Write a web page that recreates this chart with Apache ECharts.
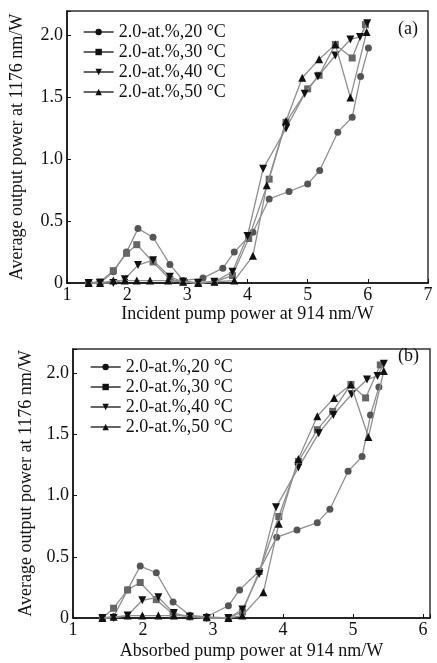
<!DOCTYPE html>
<html><head><meta charset="utf-8">
<script src="https://cdn.jsdelivr.net/npm/echarts@6/dist/echarts.min.js"></script>
<style>html,body{margin:0;padding:0;background:#fff}#c{width:437px;height:663px}</style>
</head><body><div id="c"></div>
<script>
// ---- Panel (a): incident pump power ----
const aX20 = [1.36,1.55,1.77,1.99,2.18,2.43,2.71,2.93,3.26,3.59,3.78,4.09,4.36,4.69,5.0,5.2,5.5,5.74,5.88,6.01];
const aY20 = [0,0,0.09,0.25,0.44,0.37,0.15,0.02,0.04,0.12,0.25,0.41,0.68,0.74,0.80,0.91,1.22,1.34,1.67,1.90];
const aX30 = [1.36,1.55,1.77,1.99,2.16,2.43,2.71,2.93,3.18,3.45,3.75,4.02,4.36,4.64,5.0,5.19,5.46,5.74,5.96];
const aY30 = [0,0.01,0.10,0.24,0.31,0.17,0.03,0.01,0,0.01,0.06,0.36,0.84,1.30,1.57,1.68,1.93,1.82,2.09];
const aX40 = [1.36,1.55,1.77,1.96,2.18,2.43,2.71,2.93,3.18,3.45,3.75,4.0,4.26,4.64,4.95,5.17,5.46,5.71,5.87,5.99];
const aY40 = [0,0,0,0.03,0.145,0.185,0.05,0.01,0,0.01,0.09,0.38,0.925,1.25,1.53,1.67,1.84,1.97,1.99,2.10];
const aX50 = [1.36,1.55,1.77,1.96,2.16,2.38,2.68,2.93,3.18,3.45,3.78,4.09,4.32,4.64,4.91,5.19,5.46,5.71,5.98];
const aY50 = [0,0,0.02,0.02,0.02,0.02,0.02,0.01,0,0.01,0.02,0.22,0.79,1.31,1.66,1.81,1.93,1.50,2.03];
// ---- Panel (b): absorbed pump power ----
const bX20 = [1.42,1.58,1.78,1.96,2.19,2.43,2.67,2.91,3.22,3.38,3.66,3.91,4.20,4.49,4.67,4.93,5.13,5.25,5.37];
const bY20 = [0,0.01,0.23,0.425,0.37,0.13,0.02,0.01,0.10,0.23,0.385,0.66,0.72,0.78,0.89,1.20,1.32,1.66,1.89];
const bX30 = [1.42,1.58,1.78,1.96,2.19,2.43,2.67,2.91,3.22,3.42,3.66,3.94,4.22,4.49,4.71,4.97,5.18,5.39];
const bY30 = [0,0.08,0.23,0.29,0.15,0.03,0.01,0,0,0.05,0.38,0.83,1.28,1.54,1.69,1.91,1.80,2.07];
const bX40 = [1.42,1.58,1.78,1.99,2.22,2.44,2.67,2.91,3.22,3.42,3.66,3.90,4.22,4.51,4.72,4.98,5.20,5.35,5.44];
const bY40 = [0,0,0.02,0.145,0.17,0.04,0.01,0,0,0.07,0.36,0.905,1.23,1.51,1.66,1.83,1.95,1.98,2.08];
const bX50 = [1.42,1.58,1.78,1.99,2.22,2.44,2.67,2.91,3.22,3.42,3.72,3.94,4.22,4.49,4.73,4.97,5.22,5.44];
const bY50 = [0,0.01,0.02,0.02,0.02,0.02,0.02,0.01,0,0.02,0.21,0.77,1.30,1.65,1.80,1.91,1.48,2.02];

const names = ['2.0-at.%,20 °C','2.0-at.%,30 °C','2.0-at.%,40 °C','2.0-at.%,50 °C'];
const xTitleA = 'Incident pump power at 914 nm/W';
const xTitleB = 'Absorbed pump power at 914 nm/W';
const yTitle = 'Average output power at 1176 nm/W';

const FONT = 'Liberation Serif';
const zip = (xs, ys) => xs.map((x,i)=>[x, ys[i]]);
const markers = [
  {symbol:'circle', size:7, color:'#555', rot:0},
  {symbol:'rect', size:7, color:'#666', rot:0},
  {symbol:'triangle', size:8, color:'#111', rot:180},
  {symbol:'triangle', size:8, color:'#111', rot:0}
];
function mk(idx, gi, xs, ys){
  const m = markers[idx];
  return {
    name: names[idx], type:'line', xAxisIndex:gi, yAxisIndex:gi,
    data: zip(xs, ys), symbol:m.symbol, symbolSize:m.size, symbolRotate:m.rot,
    showAllSymbol:true, clip:false,
    itemStyle:{color:m.color}, lineStyle:{color:'#8f8f8f', width:1.3},
    z: 2+idx
  };
}
function xAxis(gi, max, title, gap){
  return {type:'value', gridIndex:gi, min:1, max:max, interval:1,
    name:title, nameLocation:'middle', nameGap:gap,
    nameTextStyle:{fontFamily:FONT, fontSize:18, color:'#111'},
    axisLine:{onZero:false, lineStyle:{color:'#111', width:1.5}},
    axisTick:{inside:true, length:4, lineStyle:{color:'#111'}},
    axisLabel:{fontFamily:FONT, fontSize:18, color:'#111', margin:3,
      formatter:v=> Number.isInteger(v)? String(v):''},
    splitLine:{show:false}};
}
function yAxis(gi, gap){
  return {type:'value', gridIndex:gi, min:0, max:2.2, interval:0.5,
    name:yTitle, nameLocation:'middle', nameGap:gap, nameRotate:90,
    nameTextStyle:{fontFamily:FONT, fontSize:18, color:'#111'},
    axisLine:{lineStyle:{color:'#111', width:1.5}},
    axisTick:{inside:true, length:4, lineStyle:{color:'#111'}},
    axisLabel:{fontFamily:FONT, fontSize:18, color:'#111', margin:4,
      formatter:v=> v===0?'0':(Math.abs(v*2-Math.round(v*2))<1e-9? v.toFixed(1):'')},
    splitLine:{show:false}};
}
function legend(left, top){
  return {orient:'vertical', left:left, top:top, padding:0, itemGap:2,
    itemWidth:30, itemHeight:8, itemTextGap:2, data:names,
    textStyle:{fontFamily:FONT, fontSize:18, color:'#111'},
    lineStyle:{color:'#111', width:1.3}, itemStyle:{color:'#111'}};
}
const chart = echarts.init(document.getElementById('c'), null, {renderer:'canvas'});
chart.setOption({
  animation:false,
  backgroundColor:'#fff',
  grid:[
    {left:65, right:9, top:11, bottom:380, show:true, borderColor:'#333', borderWidth:1.5},
    {left:73, right:7, top:349, bottom:45, show:true, borderColor:'#333', borderWidth:1.5}
  ],
  xAxis:[xAxis(0,7,xTitleA,22), xAxis(1,6.1,xTitleB,24)],
  yAxis:[yAxis(0,41), yAxis(1,33)],
  legend:[legend(83,23), legend(90,358)],
  graphic:[
    {type:'text', left:398, top:20, style:{text:'(a)', font:'18px "'+FONT+'"', fill:'#111'}},
    {type:'text', left:398, top:347, style:{text:'(b)', font:'18px "'+FONT+'"', fill:'#111'}}
  ],
  series:[
    mk(0,0,aX20,aY20), mk(1,0,aX30,aY30), mk(2,0,aX40,aY40), mk(3,0,aX50,aY50),
    mk(0,1,bX20,bY20), mk(1,1,bX30,bY30), mk(2,1,bX40,bY40), mk(3,1,bX50,bY50)
  ]
});
</script></body></html>
